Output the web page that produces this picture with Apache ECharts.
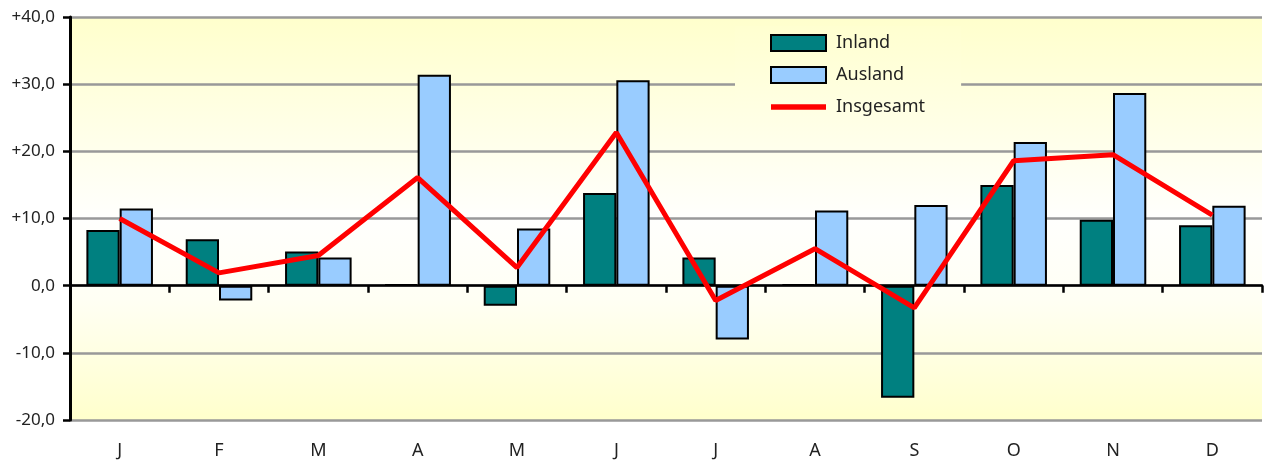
<!DOCTYPE html>
<html lang="de">
<head>
    <meta charset="UTF-8">
    <title>Inland / Ausland</title>
    <script src="https://cdn.jsdelivr.net/npm/echarts@6/dist/echarts.min.js"></script>
    <style>
        html, body { margin: 0; padding: 0; background: #fff; }
        #main { width: 1266px; height: 463px; }
    </style>
</head>
<body>
<div id="main"></div>
<script>
    // Monate
    let months = ['J', 'F', 'M', 'A', 'M', 'J', 'J', 'A', 'S', 'O', 'N', 'D'];
    let inland = [8.3, 6.9, 5.1, 0.2, -3.0, 13.8, 4.2, 0.2, -16.7, 15.0, 9.8, 9.0];
    let ausland = [11.5, -2.2, 4.2, 31.4, 8.5, 30.6, -8.0, 11.2, 12.0, 21.4, 28.7, 11.9];
    let insgesamt = [10.0, 1.9, 4.5, 16.1, 2.7, 22.8, -2.2, 5.5, -3.3, 18.6, 19.5, 10.5];

    let chart = echarts.init(document.getElementById('main'));
    let font = 'Noto Sans';

    function fmt(v) {
        let s = Math.abs(v).toFixed(1).replace('.', ',');
        if (v > 0) return '+' + s;
        if (v < 0) return '-' + s;
        return s;
    }

    let option = {
        animation: false,
        textStyle: {fontFamily: font},
        grid: {
            left: 70, right: 4, top: 17, bottom: 43,
            show: true,
            borderWidth: 0,
            backgroundColor: {
                type: 'linear', x: 0, y: 0, x2: 0, y2: 1,
                colorStops: [
                    {offset: 0, color: '#FFFFCC'},
                    {offset: 0.5, color: '#FFFFFD'},
                    {offset: 0.7, color: '#FFFFF4'},
                    {offset: 1, color: '#FFFFCC'}
                ]
            }
        },
        legend: {
            orient: 'vertical',
            left: 735,
            top: 26,
            padding: [8, 36, 8, 35],
            itemWidth: 55,
            itemHeight: 16,
            itemGap: 14,
            backgroundColor: {
                type: 'linear', x: 0, y: 0, x2: 0, y2: 1,
                colorStops: [
                    {offset: 0, color: '#FFFFD0'},
                    {offset: 1, color: '#FFFFE6'}
                ]
            },
            textStyle: {fontFamily: font, fontSize: 18, color: '#222', padding: [0, 0, 0, 5]},
            data: [
                {name: 'Inland', icon: 'rect'},
                {name: 'Ausland', icon: 'rect'},
                {name: 'Insgesamt', icon: 'path://M0,0 L10,0 L10,1 L0,1 Z', itemStyle: {color: '#FF0000'}}
            ]
        },
        xAxis: [
            {
                type: 'category',
                data: months,
                axisLine: {onZero: true, onZeroAxisIndex: 0, lineStyle: {color: '#000', width: 2.5}},
                axisTick: {show: true, length: 7, lineStyle: {color: '#000', width: 2.5}},
                axisLabel: {show: false},
                splitLine: {show: false},
                z: 5
            },
            {
                type: 'category',
                data: months,
                axisLine: {show: false, onZero: true, onZeroAxisIndex: 0},
                axisTick: {show: true, inside: true, length: 7, lineStyle: {color: '#000', width: 2.5}},
                axisLabel: {show: false},
                splitLine: {show: false},
                z: 5
            },
            {
                type: 'category',
                data: months,
                position: 'bottom',
                axisLine: {show: false, onZero: false},
                axisTick: {show: false},
                axisLabel: {margin: 22, fontSize: 18, color: '#222', fontFamily: font},
                splitLine: {show: false}
            }
        ],
        yAxis: {
            type: 'value',
            min: -20,
            max: 40,
            interval: 10,
            axisLine: {show: true, lineStyle: {color: '#000', width: 3}},
            axisTick: {show: true, length: 7, lineStyle: {color: '#000', width: 2.5}},
            axisLabel: {margin: 15, fontSize: 17, color: '#222', fontFamily: font, formatter: fmt},
            splitLine: {show: true, lineStyle: {color: '#999', width: 2.5}}
        },
        series: [
            {
                name: 'Inland',
                type: 'bar',
                data: inland,
                barGap: '0%',
                barCategoryGap: '33%',
                itemStyle: {color: '#008080', borderColor: '#000', borderWidth: 2}
            },
            {
                name: 'Ausland',
                type: 'bar',
                data: ausland,
                barGap: '0%',
                barCategoryGap: '33%',
                itemStyle: {color: '#99CCFF', borderColor: '#000', borderWidth: 2}
            },
            {
                name: 'Insgesamt',
                type: 'line',
                data: insgesamt,
                symbol: 'none',
                lineStyle: {color: '#FF0000', width: 5},
                itemStyle: {color: '#FF0000'},
                z: 10
            }
        ]
    };

    chart.setOption(option);
</script>
</body>
</html>
